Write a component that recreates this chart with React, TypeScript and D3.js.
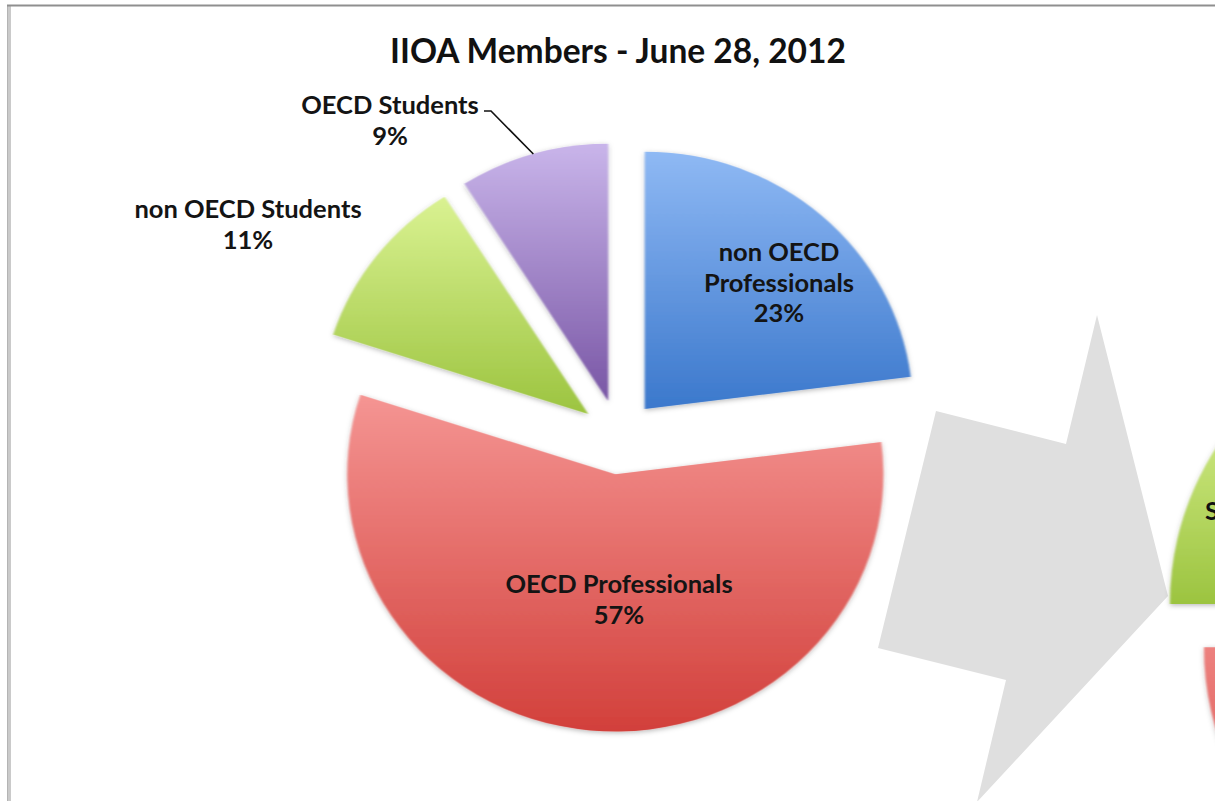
import React from "react";
import * as d3 from "d3";

// ---- data ----
const title = "IIOA Members - June 28, 2012";
const categories = ["non OECD Professionals", "OECD Professionals", "non OECD Students", "OECD Students"];
const shares = [23, 57, 11, 9];
const labelLines = [["non OECD", "Professionals"], ["OECD Professionals"], ["non OECD Students"], ["OECD Students"]];

// next chart (partly visible at right edge)
const nextCategories = ["non OECD Professionals", "OECD Professionals", "non OECD Students", "OECD Students"];
const nextShares = [20, 55, 14, 11];

const colorsTop = ["#8fb9f4", "#f59593", "#daf292", "#c9b5ea"];
const colorsBottom = ["#3b78cc", "#d2403b", "#9cc440", "#7956a5"];

// ---- layout ----
const W = 1215;
const H = 801;
const FONT = "Lato, 'Open Sans', 'DejaVu Sans', sans-serif";

const main = { cx: 619, cy: 437, r: 268, sy: 0.96, explode: 39 };
const next = { cx: 1509, cy: 617, r: 310, sy: 0.96, explode: 32 };

// label anchors (centre x, first line centre y)
const labelLayout = [
  { x: 779, y: 251 },
  { x: 619, y: 583 },
  { x: 248, y: 208 },
  { x: 390, y: 104 },
];
const lineGap = 30.5;

type P = { cx: number; cy: number; r: number; sy: number; explode: number };

function slices(values: number[], p: P) {
  const pie = d3.pie<number>().sort(null).value((d) => d);
  const arc = d3.arc<d3.PieArcDatum<number>>().innerRadius(0).outerRadius(p.r);
  return pie(values).map((d, i) => {
    const mid = (d.startAngle + d.endAngle) / 2;
    const ax = p.cx + p.explode * Math.sin(mid);
    const ay = p.cy - p.explode * Math.cos(mid) * p.sy;
    return { d, i, mid, ax, ay, path: arc(d) as string };
  });
}

export default function App() {
  const mainSlices = slices(shares, main);
  const nextSlices = slices(nextShares, next);
  const fmt = (v: number) => `${v}%`;

  const purple = mainSlices[3];
  const leaderEnd = {
    x: purple.ax + main.r * Math.sin(purple.mid),
    y: purple.ay - main.r * Math.cos(purple.mid) * main.sy,
  };
  const leader = d3.line()([
    [484, 111],
    [491, 111],
    [leaderEnd.x, leaderEnd.y],
  ]) as string;

  const arrow = [
    [1097, 315],
    [1168, 596],
    [977, 802],
    [1006, 680],
    [878, 648],
    [936, 411],
    [1066, 444],
  ];

  return (
    <svg
      width={W}
      height={H}
      viewBox={`0 0 ${W} ${H}`}
      style={{ position: "fixed", left: 0, top: 0, background: "#fff" }}
    >
      <defs>
        {colorsTop.map((c, i) => (
          <linearGradient key={i} id={`g${i}`} x1="0" y1="0" x2="0" y2="1">
            <stop offset="0" stopColor={c} />
            <stop offset="1" stopColor={colorsBottom[i]} />
          </linearGradient>
        ))}
        <filter id="sh" x="-10%" y="-10%" width="120%" height="120%">
          <feGaussianBlur in="SourceGraphic" stdDeviation="0.8" result="b" />
          <feDropShadow in="b" dx="0" dy="1.5" stdDeviation="2.5" floodColor="#000" floodOpacity="0.28" />
        </filter>
      </defs>

      <rect x={0} y={0} width={W} height={H} fill="#fff" />

      {/* frame */}
      <rect x={7} y={5} width={4} height={H - 5} fill="#cacaca" />
      <rect x={7} y={5} width={1} height={H - 5} fill="#b4b4b4" />
      <rect x={7} y={4.5} width={W - 7} height={2} fill="#8f8f8f" />

      {/* connector arrow */}
      <polygon points={arrow.map((p) => p.join(",")).join(" ")} fill="#dfdfdf" />

      {/* partial next chart */}
      <g>
        {nextSlices.map((s) => (
          <path
            key={`n${s.i}`}
            d={s.path}
            transform={`translate(${s.ax},${s.ay}) scale(1,${next.sy})`}
            fill={`url(#g${s.i})`}
            filter="url(#sh)"
          >
            <title>{nextCategories[s.i]}</title>
          </path>
        ))}
        <text x={1205} y={510} fontFamily={FONT} fontWeight={700} fontSize={25.5} fill="#111" dominantBaseline="central">
          Students
        </text>
      </g>

      {/* main pie */}
      <g>
        {mainSlices.map((s) => (
          <path
            key={s.i}
            d={s.path}
            transform={`translate(${s.ax},${s.ay}) scale(1,${main.sy})`}
            fill={`url(#g${s.i})`}
            filter="url(#sh)"
          >
            <title>{categories[s.i]}</title>
          </path>
        ))}
      </g>

      <path d={leader} fill="none" stroke="#111" strokeWidth={1.6} />

      {/* labels */}
      <g fontFamily={FONT} fontWeight={700} fontSize={25.5} fill="#141414" textAnchor="middle">
        {mainSlices.map((s) => {
          const lines = [...labelLines[s.i], fmt(shares[s.i])];
          const L = labelLayout[s.i];
          return (
            <text key={s.i} x={L.x} y={L.y} dominantBaseline="central">
              {lines.map((t, k) => (
                <tspan key={k} x={L.x} y={L.y + k * lineGap}>
                  {t}
                </tspan>
              ))}
            </text>
          );
        })}
      </g>

      <text
        x={618}
        y={50}
        textAnchor="middle"
        dominantBaseline="central"
        fontFamily={FONT}
        fontWeight={700}
        fontSize={33.5}
        fill="#111"
      >
        {title}
      </text>
    </svg>
  );
}
